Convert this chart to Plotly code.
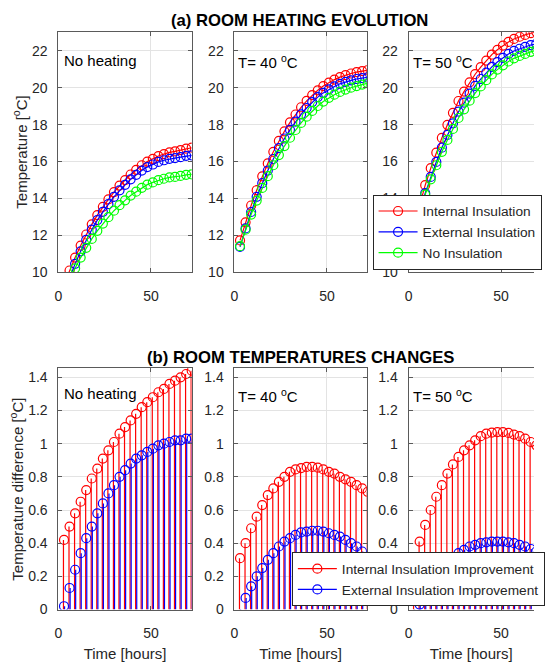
import plotly.graph_objects as go

# ---------------- data ----------------
hours = [3, 6, 9, 12, 15, 18, 21, 24, 27, 30, 33, 36, 39, 42, 45, 48, 51, 54, 57, 60, 63, 66, 69, 72]

panel_labels = ["No heating", "T= 40 <sup>o</sup>C", "T= 50 <sup>o</sup>C"]

# (a) room temperature [°C]
nh_internal = [9.35, 10.10, 10.80, 11.45, 12.05, 12.60, 13.10, 13.55, 13.95, 14.35, 14.70, 15.00,
               15.30, 15.55, 15.80, 16.00, 16.15, 16.30, 16.40, 16.50, 16.55, 16.62, 16.70, 16.75]
nh_external = [8.95, 9.73, 10.46, 11.14, 11.76, 12.31, 12.83, 13.28, 13.69, 14.09, 14.44, 14.74,
               15.04, 15.28, 15.51, 15.70, 15.84, 15.98, 16.07, 16.15, 16.19, 16.24, 16.31, 16.34]
nh_none = [8.93, 9.60, 10.22, 10.80, 11.33, 11.81, 12.25, 12.64, 12.99, 13.34, 13.64, 13.90,
           14.16, 14.37, 14.58, 14.75, 14.87, 14.99, 15.07, 15.14, 15.17, 15.22, 15.28, 15.31]

t40_internal = [11.73, 12.71, 13.62, 14.45, 15.20, 15.90, 16.53, 17.12, 17.64, 18.12, 18.55, 18.94,
                19.29, 19.60, 19.86, 20.09, 20.28, 20.44, 20.57, 20.68, 20.77, 20.84, 20.90, 20.95]
t40_external = [11.38, 12.38, 13.27, 14.09, 14.83, 15.51, 16.14, 16.73, 17.25, 17.72, 18.16, 18.56,
                18.90, 19.22, 19.49, 19.72, 19.91, 20.07, 20.21, 20.32, 20.40, 20.47, 20.52, 20.56]
t40_none = [11.42, 12.31, 13.13, 13.89, 14.57, 15.21, 15.80, 16.35, 16.84, 17.29, 17.71, 18.09,
            18.43, 18.74, 19.01, 19.25, 19.45, 19.62, 19.77, 19.90, 20.00, 20.09, 20.17, 20.24]

t50_internal = [12.54, 13.69, 14.72, 15.64, 16.48, 17.28, 17.99, 18.64, 19.28, 19.79, 20.29, 20.73,
                21.11, 21.47, 21.79, 22.05, 22.28, 22.48, 22.64, 22.76, 22.86, 22.95, 23.02, 23.08]
t50_external = [12.16, 13.31, 14.29, 15.17, 15.98, 16.75, 17.44, 18.07, 18.70, 19.19, 19.68, 20.10,
                20.47, 20.82, 21.13, 21.39, 21.62, 21.83, 21.99, 22.11, 22.21, 22.31, 22.38, 22.44]
t50_none = [12.24, 13.28, 14.21, 15.04, 15.80, 16.53, 17.17, 17.77, 18.36, 18.83, 19.30, 19.71,
            20.07, 20.41, 20.72, 20.98, 21.21, 21.42, 21.59, 21.72, 21.83, 21.94, 22.03, 22.11]

# (b) temperature difference [°C]
nh_int_diff = [0.42, 0.50, 0.58, 0.65, 0.72, 0.79, 0.85, 0.91, 0.96, 1.01, 1.06, 1.10,
               1.14, 1.18, 1.22, 1.25, 1.28, 1.31, 1.33, 1.36, 1.38, 1.40, 1.42, 1.44]
nh_ext_diff = [0.02, 0.13, 0.24, 0.34, 0.43, 0.50, 0.58, 0.64, 0.70, 0.75, 0.80, 0.84,
               0.88, 0.91, 0.93, 0.95, 0.97, 0.99, 1.00, 1.01, 1.02, 1.02, 1.03, 1.03]
t40_int_diff = [0.31, 0.40, 0.49, 0.56, 0.63, 0.69, 0.73, 0.77, 0.80, 0.83, 0.845, 0.853,
                0.86, 0.86, 0.855, 0.845, 0.83, 0.82, 0.80, 0.785, 0.77, 0.75, 0.73, 0.71]
t40_ext_diff = [-0.04, 0.07, 0.14, 0.20, 0.25, 0.30, 0.34, 0.38, 0.41, 0.43, 0.45, 0.465,
                0.47, 0.475, 0.475, 0.47, 0.46, 0.45, 0.44, 0.42, 0.40, 0.38, 0.35, 0.32]
t50_int_diff = [0.30, 0.41, 0.51, 0.60, 0.68, 0.75, 0.82, 0.875, 0.92, 0.96, 0.99, 1.02,
                1.045, 1.06, 1.067, 1.07, 1.07, 1.065, 1.055, 1.045, 1.03, 1.01, 0.99, 0.97]
t50_ext_diff = [-0.08, 0.03, 0.08, 0.13, 0.18, 0.22, 0.27, 0.30, 0.34, 0.36, 0.38, 0.39,
                0.40, 0.405, 0.41, 0.41, 0.41, 0.405, 0.40, 0.39, 0.38, 0.365, 0.35, 0.33]

top_series = [
    (nh_internal, nh_external, nh_none),
    (t40_internal, t40_external, t40_none),
    (t50_internal, t50_external, t50_none),
]
bottom_series = [
    (nh_int_diff, nh_ext_diff),
    (t40_int_diff, t40_ext_diff),
    (t50_int_diff, t50_ext_diff),
]
top_names = ["Internal Insulation", "External Insulation", "No Insulation"]
bottom_names = ["Internal Insulation Improvement", "External Insulation Improvement"]
top_yticks = [10, 12, 14, 16, 18, 20, 22]
bottom_yticks = [0, 0.2, 0.4, 0.6, 0.8, 1, 1.2, 1.4]
bottom_yticktext = ["0", "0.2", "0.4", "0.6", "0.8", "1", "1.2", "1.4"]
xticks = [0, 50]

# ---------------- styling / layout ----------------
W, H = 545, 662
RED, BLUE, GREEN = "#ff0000", "#0000ff", "#00ff00"
colors_top = [RED, BLUE, GREEN]
colors_bot = [RED, BLUE]
stem_nudge = [-0.3, 0.3]   # tiny render offset so overlapping stems stay visible side by side
FONT = "Liberation Sans, Arial, sans-serif"
AX = "#5a5a5a"
TXT = "#262626"
GRID = "#e3e3e3"

col_px = [(56, 193), (237, 373), (416, 545)]
col_full_w = 137.0
x_full = 72.0
row_px = [(32.7, 275.7), (372.7, 617.0)]


def xd(p):
    return p / W


def yd(p):
    return 1 - p / H


fig = go.Figure()


def stem_xy(xs, ys, dx):
    sx, sy = [], []
    for a, b in zip(xs, ys):
        sx += [a + dx, a + dx, None]
        sy += [0, b, None]
    return sx, sy


for c in range(3):
    # top row
    ax_i = c + 1
    xa = "x" if ax_i == 1 else f"x{ax_i}"
    ya = "y" if ax_i == 1 else f"y{ax_i}"
    for k, vals in enumerate(top_series[c]):
        fig.add_trace(go.Scatter(
            x=hours, y=vals, mode="lines+markers", name=top_names[k],
            line=dict(color=colors_top[k], width=1.2),
            marker=dict(symbol="circle-open", size=9, color=colors_top[k], line=dict(width=1.2)),
            xaxis=xa, yaxis=ya, showlegend=(c == 2), legend="legend",
        ))
    # bottom row
    ax_j = c + 4
    xb, yb = f"x{ax_j}", f"y{ax_j}"
    for k, vals in enumerate(bottom_series[c]):
        sx, sy = stem_xy(hours, vals, stem_nudge[k])
        fig.add_trace(go.Scatter(
            x=sx, y=sy, mode="lines", line=dict(color=colors_bot[k], width=1.2),
            xaxis=xb, yaxis=yb, showlegend=False, hoverinfo="skip",
        ))
        fig.add_trace(go.Scatter(
            x=hours, y=vals, mode="markers",
            marker=dict(symbol="circle-open", size=9, color=colors_bot[k], line=dict(width=1.2)),
            xaxis=xb, yaxis=yb, showlegend=False,
        ))
        if c == 2:
            fig.add_trace(go.Scatter(
                x=[None], y=[None], mode="lines+markers", name=bottom_names[k],
                line=dict(color=colors_bot[k], width=1.2),
                marker=dict(symbol="circle-open", size=9, color=colors_bot[k], line=dict(width=1.2)),
                xaxis=xb, yaxis=yb, showlegend=True, legend="legend2",
            ))

layout = dict(
    width=W, height=H, margin=dict(l=0, r=0, t=0, b=0),
    paper_bgcolor="white", plot_bgcolor="white",
    font=dict(family=FONT, color=TXT, size=14),
    showlegend=True,
)

common_axis = dict(
    showline=True, linecolor=AX, linewidth=1, ticks="inside", ticklen=4, tickcolor=AX,
    showgrid=True, gridcolor=GRID, gridwidth=1, zeroline=False,
    tickfont=dict(family=FONT, size=14, color=TXT),
)

for r in range(2):
    for c in range(3):
        i = r * 3 + c + 1
        x0, x1 = col_px[c]
        y0, y1 = row_px[r]
        xrng = [0, x_full * (x1 - x0) / col_full_w]
        xkey = "xaxis" if i == 1 else f"xaxis{i}"
        ykey = "yaxis" if i == 1 else f"yaxis{i}"
        xcfg = dict(
            common_axis, domain=[xd(x0), xd(x1)], range=xrng, anchor="y" if i == 1 else f"y{i}",
            tickvals=xticks, ticktext=[str(v) for v in xticks], mirror="ticks",
            ticklabelstandoff=11,
        )
        if r == 1:
            xcfg["title"] = dict(text="Time [hours]", font=dict(size=15, color=TXT), standoff=8)
        layout[xkey] = xcfg
        if r == 0:
            yrng, yt, ytt = [10, 23], top_yticks, [str(v) for v in top_yticks]
        else:
            yrng, yt, ytt = [0, 1.455], bottom_yticks, bottom_yticktext
        layout[ykey] = dict(
            common_axis, domain=[yd(y1), yd(y0)], range=yrng, anchor="x" if i == 1 else f"x{i}",
            tickvals=yt, ticktext=ytt, mirror=("ticks" if c < 2 else False),
            ticklabelstandoff=7,
        )

layout["legend"] = dict(
    x=xd(379), y=yd(197), xanchor="left", yanchor="top",
    bgcolor="white", bordercolor="#262626", borderwidth=1,
    font=dict(family=FONT, size=13.7, color=TXT), tracegroupgap=0, itemwidth=39,
)
layout["legend2"] = dict(
    x=xd(296), y=yd(559), xanchor="left", yanchor="top",
    bgcolor="white", bordercolor="#262626", borderwidth=1,
    font=dict(family=FONT, size=13.7, color=TXT), tracegroupgap=0, itemwidth=39,
)

annotations = [
    dict(text="<b>(a) ROOM HEATING EVOLUTION</b>", x=xd(304), y=yd(21), xref="paper", yref="paper",
         xanchor="center", yanchor="middle", showarrow=False, font=dict(size=16.7, color="black")),
    dict(text="<b>(b) ROOM TEMPERATURES CHANGES</b>", x=xd(305), y=yd(362), xref="paper", yref="paper",
         xanchor="center", yanchor="middle", showarrow=False, font=dict(size=16.7, color="black")),
    dict(text="Temperature [<sup>o</sup>C]", x=xd(16), y=yd(154), xref="paper", yref="paper",
         xanchor="center", yanchor="middle", textangle=-90, showarrow=False, font=dict(size=15, color=TXT)),
    dict(text="Temperature difference [<sup>o</sup>C]", x=xd(12), y=yd(495), xref="paper", yref="paper",
         xanchor="center", yanchor="middle", textangle=-90, showarrow=False, font=dict(size=15, color=TXT)),
]
label_pos = [(60, 61, 398), (239, 62, 400.5), (419, 62, 400.5)]
for c in range(3):
    lx, ty, by = label_pos[c]
    annotations.append(dict(text=panel_labels[c], x=xd(lx), y=yd(ty), xref="paper", yref="paper",
                            xanchor="left", yanchor="middle", showarrow=False,
                            font=dict(size=15, color="black")))
    annotations.append(dict(text=panel_labels[c], x=xd(lx), y=yd(by), xref="paper", yref="paper",
                            xanchor="left", yanchor="middle", showarrow=False,
                            font=dict(size=15, color="black")))
layout["annotations"] = annotations

fig.update_layout(**layout)
fig.write_html(
    "out.html",
    config={"displayModeBar": False},
    post_script="document.body.style.margin='0';document.body.style.padding='0';",
)
